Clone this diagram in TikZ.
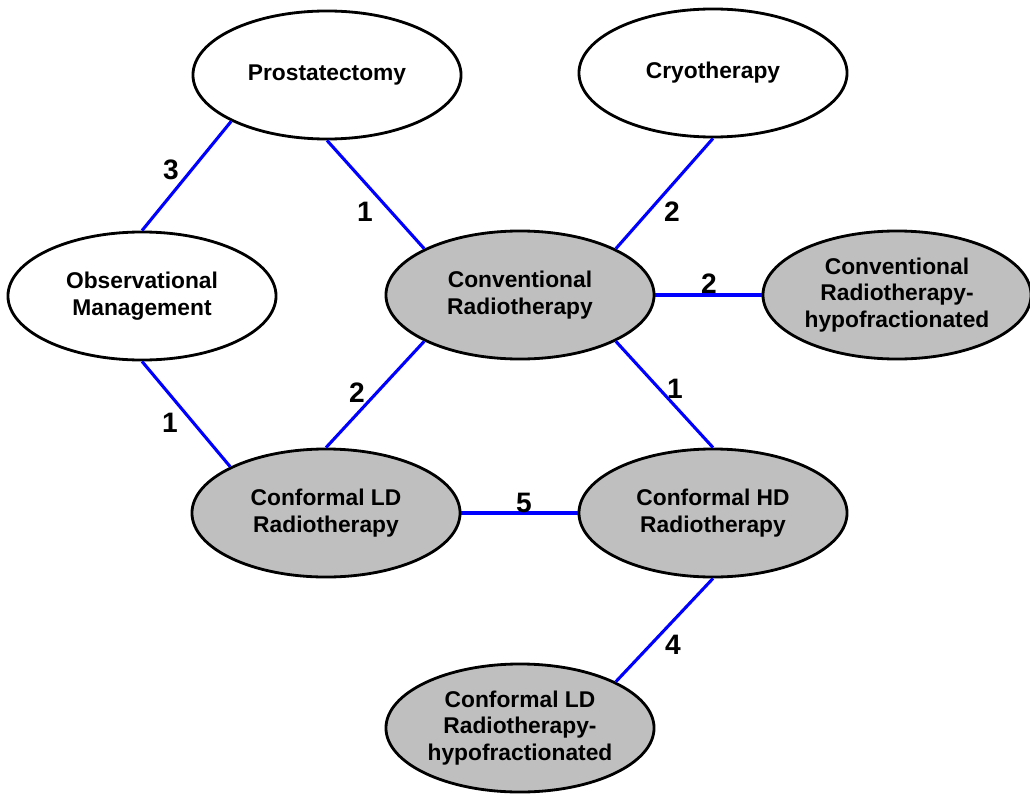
\documentclass[tikz,border=0pt]{standalone}
\usepackage{fontspec}
\setmainfont{Liberation Sans}
\usepackage{tikz}
\usetikzlibrary{shapes,positioning}

\begin{document}
\begin{tikzpicture}[x=0.025cm, y=-0.025cm,
    treat/.style={ellipse, draw, line width=2pt, minimum width=6.7cm, minimum height=3.2cm, inner sep=0pt, align=center, font=\fontsize{16.2}{19}\selectfont\bfseries},
    radio/.style={treat, fill=black!25},
    link/.style={blue, line width=2.2pt},
    num/.style={font=\fontsize{20}{24}\selectfont\bfseries}]
    \useasboundingbox (0,0) rectangle (1030,794);

    % Treatments
    \node[treat] (prost) at (327, 75) {Prostatectomy};
    \node[treat] (cryo) at (713, 73) {Cryotherapy};
    \node[treat] (obs) at (142, 296) {Observational\\Management};
    \node[radio] (conv) at (520, 295) {Conventional\\Radiotherapy};
    \node[radio] (convhypo) at (897, 295) {Conventional\\Radiotherapy-\\hypofractionated};
    \node[radio] (ld) at (326, 513) {Conformal LD\\Radiotherapy};
    \node[radio] (hd) at (713, 513) {Conformal HD\\Radiotherapy};
    \node[radio] (ldhypo) at (520, 728) {Conformal LD\\Radiotherapy-\\hypofractionated};

    % Comparisons
    \draw[link] (prost.south west) -- (obs.north);
    \draw[link] (prost.south) -- (conv.north west);
    \draw[link] (cryo.south) -- (conv.north east);
    \draw[link] (conv.east) -- (convhypo.west);
    \draw[link] (conv.south east) -- (hd.north);
    \draw[link] (obs.south) -- (ld.north west);
    \draw[link] (conv.south west) -- (ld.north);
    \draw[link] (ld.east) -- (hd.west);
    \draw[link] (hd.south) -- (ldhypo.north east);

    % Number of trials
    \node[num] (n1) at (171, 170) {3};
    \node[num] (n2) at (365, 212) {1};
    \node[num] (n3) at (672, 212) {2};
    \node[num] (n4) at (709, 284) {2};
    \node[num] (n5) at (675, 389) {1};
    \node[num] (n6) at (170, 423) {1};
    \node[num] (n7) at (357, 393) {2};
    \node[num] (n8) at (524, 503) {5};
    \node[num] (n9) at (673, 645) {4};
\end{tikzpicture}
\end{document}
